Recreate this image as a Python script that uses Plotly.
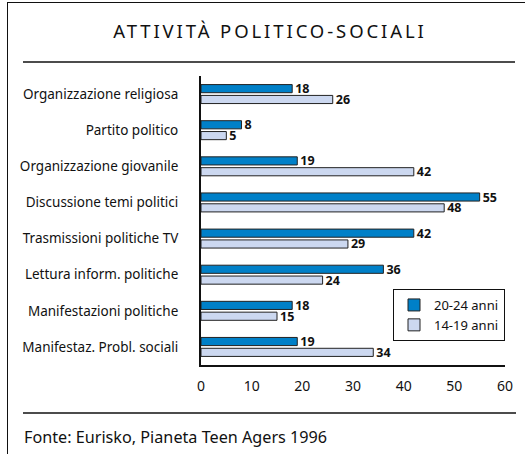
import plotly.graph_objects as go

categories = [
    "Organizzazione religiosa",
    "Partito politico",
    "Organizzazione giovanile",
    "Discussione temi politici",
    "Trasmissioni politiche TV",
    "Lettura inform. politiche",
    "Manifestazioni politiche",
    "Manifestaz. Probl. sociali",
]
vals_20_24 = [18, 8, 19, 55, 42, 36, 18, 19]
vals_14_19 = [26, 5, 42, 48, 29, 24, 15, 34]
series_names = ["20-24 anni", "14-19 anni"]
x_ticks = [0, 10, 20, 30, 40, 50, 60]
title_text = "ATTIVITÀ POLITICO-SOCIALI"
source_text = "Fonte: Eurisko, Pianeta Teen Agers 1996"

FONT = "Noto Sans"
DARK = "#0080C8"
LIGHT = "#CCD8F0"

W, H = 525, 454
L, R, T, B = 201, 20, 76, 89
PW = W - L - R
PH = H - T - B


def px_x(p):
    return (p - L) / PW


def px_y(p):
    return (H - B - p) / PH


fig = go.Figure()
for name, vals, col in [(series_names[0], vals_20_24, DARK), (series_names[1], vals_14_19, LIGHT)]:
    fig.add_trace(go.Bar(
        y=categories, x=vals, orientation="h", name=name,
        marker=dict(color=col, line=dict(color="#222222", width=1)),
        text=[str(v) for v in vals], textposition="outside",
        textfont=dict(family=FONT, size=12.5, color="#111111", weight="bold"),
        constraintext="none", cliponaxis=False,
    ))

fig.update_layout(
    width=W, height=H,
    margin=dict(l=L, r=R, t=T, b=B),
    paper_bgcolor="white", plot_bgcolor="white",
    barmode="group", bargap=0.4, bargroupgap=0.25,
    font=dict(family=FONT, size=13, color="#111111"),
    showlegend=True,
    legend=dict(
        x=1.0, xanchor="right", y=px_y(289), yanchor="top",
        bordercolor="#111111", borderwidth=1, bgcolor="white",
        font=dict(family=FONT, size=13), tracegroupgap=0,
    ),
    title=dict(text='<span style="letter-spacing:2.9px">' + title_text + "</span>",
               x=270 / W, xref="container", xanchor="center",
               y=1 - 32 / H, yref="container", yanchor="middle",
               font=dict(family=FONT, size=18.5, color="#111111")),
)

fig.update_xaxes(
    range=[0, 60], tickvals=x_ticks, showgrid=False, zeroline=False,
    showline=True, linecolor="#111111", linewidth=2, ticks="",
    ticklabelstandoff=7, tickfont=dict(family=FONT, size=14),
)
fig.update_yaxes(
    autorange="reversed", showgrid=False, showline=True, linecolor="#111111",
    linewidth=2, ticks="", ticklabelstandoff=18, tickfont=dict(family=FONT, size=13.5),
)

line_style = dict(color="#111111", width=1.5)
shapes = [
    dict(type="line", xref="paper", yref="paper", x0=px_x(23), x1=px_x(515), y0=px_y(62), y1=px_y(62), line=line_style),
    dict(type="line", xref="paper", yref="paper", x0=px_x(23), x1=px_x(516), y0=px_y(413), y1=px_y(413), line=line_style),
    dict(type="line", xref="paper", yref="paper", x0=px_x(7.5), x1=px_x(7.5), y0=px_y(2), y1=px_y(454), line=dict(color="#111111", width=1)),
    dict(type="line", xref="paper", yref="paper", x0=px_x(7.5), x1=px_x(525), y0=px_y(2.5), y1=px_y(2.5), line=dict(color="#111111", width=1)),
]
fig.update_layout(shapes=shapes)
fig.add_annotation(text=source_text, xref="paper", yref="paper", x=px_x(22), y=px_y(437),
                   xanchor="left", yanchor="middle", showarrow=False,
                   font=dict(family=FONT, size=16.2, color="#111111"))

fig.write_html("out.html")
